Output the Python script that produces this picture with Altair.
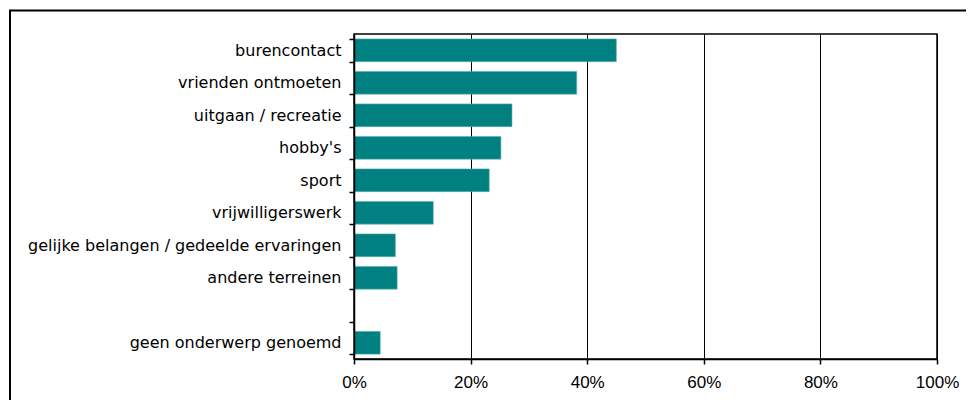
import altair as alt
import pandas as pd

categories = [
    "burencontact",
    "vrienden ontmoeten",
    "uitgaan / recreatie",
    "hobby's",
    "sport",
    "vrijwilligerswerk",
    "gelijke belangen / gedeelde ervaringen",
    "andere terreinen",
    "geen onderwerp genoemd",
]
values = [45.0, 38.2, 27.1, 25.2, 23.2, 13.6, 7.1, 7.4, 4.5]

# order of the category axis, with one empty slot before the last category
y_domain = categories[:8] + [""] + categories[8:]
x_ticks = [0, 20, 40, 60, 80, 100]

df = pd.DataFrame({"cat": categories, "val": values})
frame_df = pd.DataFrame({"f": [0]})

PLOT_W = 583
PLOT_H = 325

bars = alt.Chart(df).mark_bar(
    color="#008080", stroke="#5fb0b0", strokeWidth=0.6
).encode(
    x=alt.X(
        "val:Q",
        scale=alt.Scale(domain=[0, 100], nice=False, zero=True),
        axis=alt.Axis(
            values=x_ticks,
            labelExpr="datum.value + '%'",
            title=None,
            grid=True,
            gridColor="#000000",
            gridWidth=1,
            gridOpacity=1,
            domainColor="#000000",
            domainWidth=1.5,
            tickColor="#000000",
            tickWidth=1.5,
            tickSize=5,
            labelFont="Liberation Sans",
            labelFontSize=17,
            labelColor="#000000",
            labelPadding=10,
            labelFlush=False,
        ),
    ),
    y=alt.Y(
        "cat:N",
        scale=alt.Scale(domain=y_domain, paddingInner=0.3, paddingOuter=0.15),
        axis=alt.Axis(
            title=None,
            tickBand="extent",
            domainColor="#000000",
            domainWidth=1.5,
            tickColor="#000000",
            tickWidth=1.5,
            tickSize=5,
            labelFont="DejaVu Sans",
            labelFontSize=16,
            labelColor="#000000",
            labelPadding=8,
            labelLimit=400,
            zindex=1,
        ),
    ),
)

frame = alt.Chart(frame_df).mark_rect(
    fillOpacity=0, stroke="#000000", strokeWidth=2
).encode(
    x=alt.value(-344),
    x2=alt.value(700),
    y=alt.value(-23.5),
    y2=alt.value(500),
)

chart = alt.layer(bars, frame).properties(
    width=PLOT_W,
    height=PLOT_H,
    autosize="none",
    padding={"left": 346, "top": 26, "right": 29, "bottom": 41},
    background="#ffffff",
).configure_view(
    stroke="#000000", strokeWidth=1.5
)

chart.save("out.html", embed_options={"renderer": "svg", "actions": False})
